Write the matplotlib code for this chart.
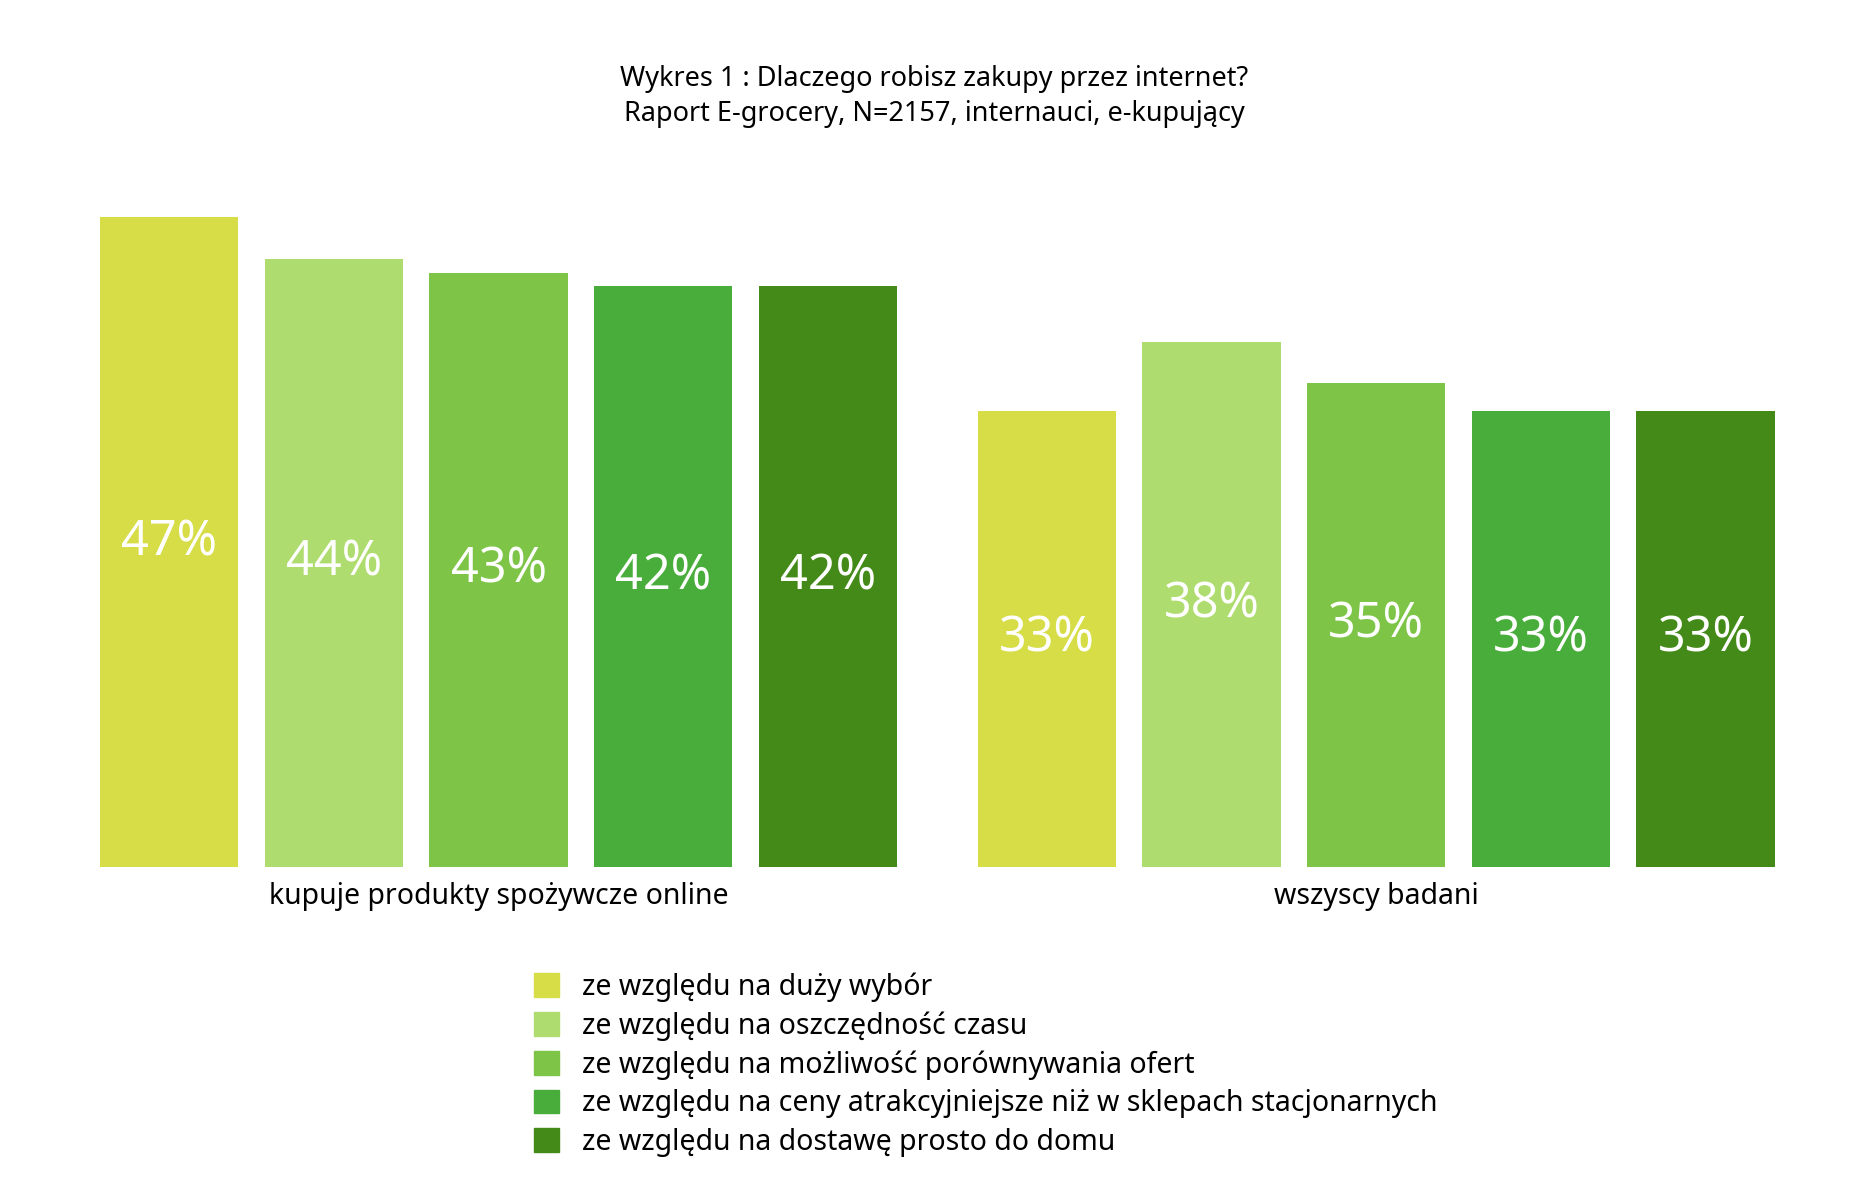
import matplotlib.pyplot as plt
from matplotlib.patches import Patch

plt.rcParams['font.family'] = 'Noto Sans'

groups = ['kupuje produkty spożywcze online', 'wszyscy badani']
reasons = ['ze względu na duży wybór',
           'ze względu na oszczędność czasu',
           'ze względu na możliwość porównywania ofert',
           'ze względu na ceny atrakcyjniejsze niż w sklepach stacjonarnych',
           'ze względu na dostawę prosto do domu']
online = [47, 44, 43, 42, 42]
all_resp = [33, 38, 35, 33, 33]
colors = ['#D7DD46', '#AEDC6E', '#7DC447', '#48AD3A', '#448A18']

fig = plt.figure(figsize=(18.68, 11.88), dpi=100)
ax = fig.add_axes([0.0536, 0.2705, 0.8964, 0.5465])

gap = 5.33
for gi, vals in enumerate([online, all_resp]):
    for i, v in enumerate(vals):
        x = i + gi * gap
        ax.bar(x, v, width=0.84, color=colors[i])
        ax.text(x, v / 2, f'{v}%', ha='center', va='center', color='white', fontsize=35)
    ax.text(2 + gi * gap, -1.1, groups[gi], ha='center', va='top', fontsize=20.5)

ax.set_xlim(-0.42, 4 + gap + 0.42)
ax.set_ylim(0, 47)
ax.axis('off')

fig.text(0.5, 0.945, 'Wykres 1 : Dlaczego robisz zakupy przez internet?\nRaport E-grocery, N=2157, internauci, e-kupujący',
         ha='center', va='top', fontsize=19.5, linespacing=1.3)

handles = [Patch(color=c) for c in colors]
fig.legend(handles, reasons, loc='upper left', bbox_to_anchor=(0.272, 0.203), frameon=False,
           fontsize=20.5, handlelength=0.9, handleheight=0.9, handletextpad=0.8, labelspacing=0.33)

fig.savefig('out.png', dpi=100)
